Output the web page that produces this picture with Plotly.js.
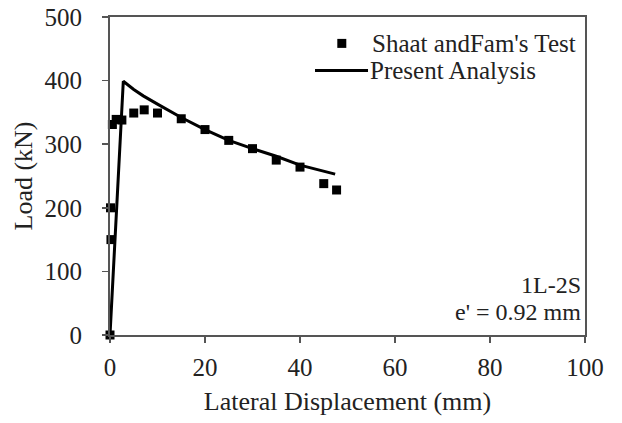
<!DOCTYPE html>
<html>
<head>
<meta charset="utf-8">
<script src="https://cdn.plot.ly/plotly-3.0.1.min.js"></script>
<style>html,body{margin:0;padding:0;background:#fff;}#chart{width:622px;height:423px;}</style>
</head>
<body>
<div id="chart"></div>
<script>
// Shaat and Fam's test data
const testX = [0, 0.2, 0.1, 0.5, 1.3, 2.5, 5, 7.2, 10, 15, 20, 25, 30, 35, 40, 45, 47.7];
const testY = [0, 150, 200, 331, 339, 338, 349, 354, 349, 340, 323, 306, 293, 275, 264, 238, 228];
// Present analysis curve
const anaX = [0, 2.8, 5, 7, 10, 15, 20, 25, 30, 35, 40, 47.4];
const anaY = [0, 399, 386, 376, 363, 342, 323, 306, 293, 281, 267, 253];
// Axis ticks
const xTicks = [0, 20, 40, 60, 80, 100];
const yTicks = [0, 100, 200, 300, 400, 500];
const seriesNames = ["Shaat andFam's Test", "Present Analysis"];
const noteLines = ["1L-2S", "e' = 0.92 mm"];

const FONT = 'Liberation Serif, Times New Roman, serif';
const TXT = '#222';
const AX = '#555';

const traces = [
  {
    x: testX, y: testY, type: 'scatter', mode: 'markers', name: seriesNames[0],
    marker: {symbol: 'square', size: 9, color: '#000'}, cliponaxis: false, showlegend: false
  },
  {
    x: anaX, y: anaY, type: 'scatter', mode: 'lines', name: seriesNames[1],
    line: {color: '#000', width: 3}, cliponaxis: false, showlegend: false
  }
];

const axisCommon = {
  showgrid: false, zeroline: false, showline: true, linecolor: AX, linewidth: 2,
  mirror: true, ticks: 'outside', ticklen: 6, tickwidth: 1.5, tickcolor: AX,
  tickfont: {family: FONT, size: 25, color: TXT}
};

// manual legend (paper coordinates)
const legRow1 = 0.917, legRow2 = 0.832;
const mkHalfX = 4.5 / 475, mkHalfY = 4.5 / 318;

const layout = {
  width: 622, height: 423,
  margin: {l: 110, r: 37, t: 17, b: 88},
  paper_bgcolor: '#fff', plot_bgcolor: '#fff',
  font: {family: FONT, color: TXT},
  showlegend: false,
  xaxis: Object.assign({}, axisCommon, {
    range: [0, 100], tickvals: xTicks, ticktext: xTicks.map(String),
    ticklabelstandoff: 3,
    title: {text: 'Lateral Displacement (mm)', font: {family: FONT, size: 26, color: TXT}, standoff: 12}
  }),
  yaxis: Object.assign({}, axisCommon, {
    range: [0, 500], tickvals: yTicks, ticktext: yTicks.map(String),
    ticklabelstandoff: 15,
    title: {text: 'Load (kN)', font: {family: FONT, size: 26, color: TXT}, standoff: 4}
  }),
  shapes: [
    {type: 'rect', xref: 'paper', yref: 'paper',
     x0: 0.488 - mkHalfX, x1: 0.488 + mkHalfX, y0: legRow1 - mkHalfY, y1: legRow1 + mkHalfY,
     fillcolor: '#000', line: {width: 0}},
    {type: 'line', xref: 'paper', yref: 'paper', x0: 0.4316, x1: 0.5432, y0: legRow2, y1: legRow2,
     line: {color: '#000', width: 3}}
  ],
  annotations: [
    {xref: 'paper', yref: 'paper', x: 0.548, y: legRow1, xanchor: 'left', yanchor: 'middle',
     text: seriesNames[0], showarrow: false, font: {family: FONT, size: 25, color: TXT}},
    {xref: 'paper', yref: 'paper', x: 0.544, y: legRow2, xanchor: 'left', yanchor: 'middle',
     text: seriesNames[1], showarrow: false, font: {family: FONT, size: 25, color: TXT}},
    {xref: 'paper', yref: 'paper', x: 0.995, y: 0.156, xanchor: 'right', yanchor: 'middle',
     text: noteLines[0], showarrow: false, font: {family: FONT, size: 24, color: TXT}},
    {xref: 'paper', yref: 'paper', x: 0.995, y: 0.071, xanchor: 'right', yanchor: 'middle',
     text: noteLines[1], showarrow: false, font: {family: FONT, size: 24, color: TXT}}
  ]
};

Plotly.newPlot('chart', traces, layout, {displayModeBar: false, staticPlot: true});
</script>
</body>
</html>
